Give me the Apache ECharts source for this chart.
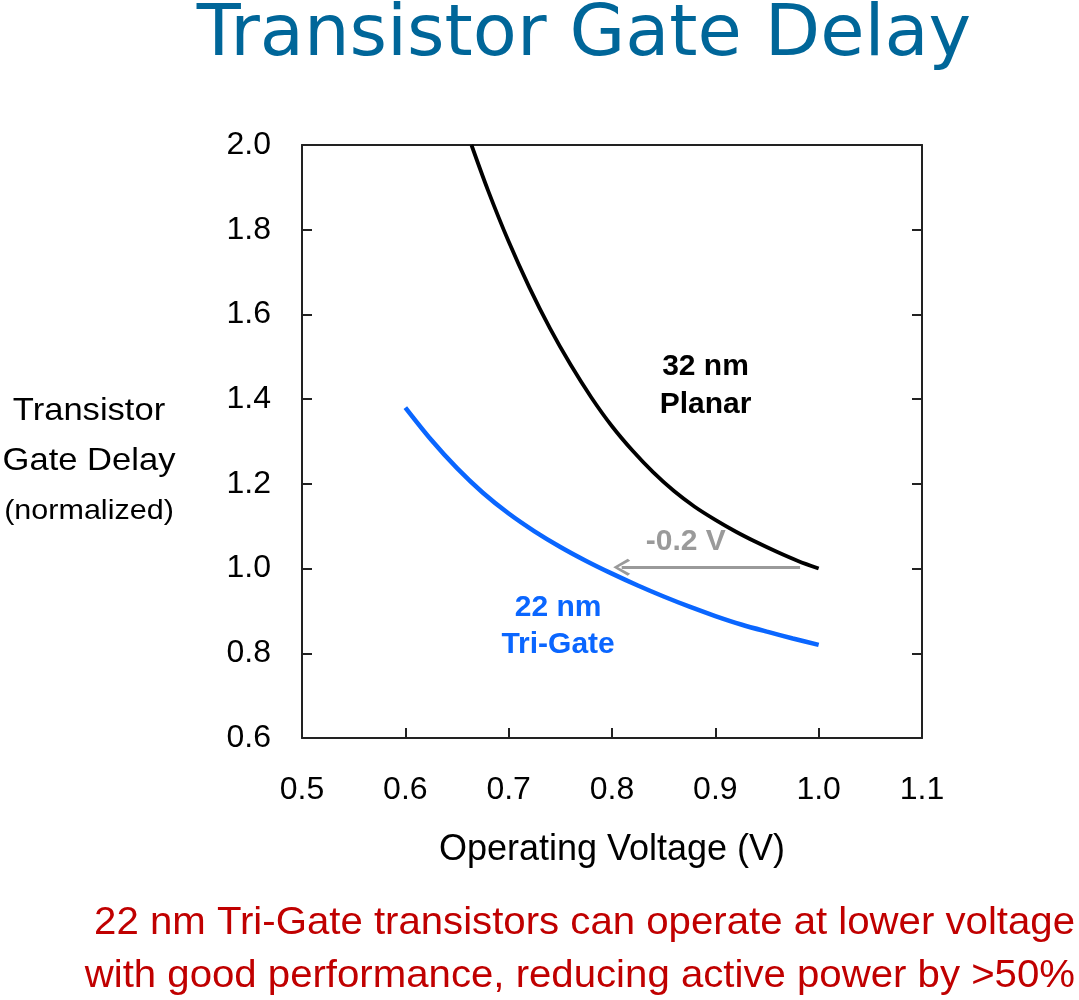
<!DOCTYPE html>
<html>
<head>
<meta charset="utf-8">
<script src="https://cdn.jsdelivr.net/npm/echarts@6/dist/echarts.min.js"></script>
<style>
html,body{margin:0;padding:0;background:#fff;}
#chart{width:1079px;height:1000px;}
</style>
</head>
<body>
<div id="chart"></div>
<script>
// ---- data ----
const planar32 = [[0.664,2.0],[0.68,1.893],[0.70,1.772],[0.72,1.664],[0.74,1.567],[0.76,1.481],[0.78,1.404],[0.80,1.336],[0.82,1.278],[0.84,1.227],[0.86,1.183],[0.88,1.146],[0.90,1.115],[0.92,1.087],[0.94,1.062],[0.96,1.039],[0.98,1.018],[1.00,1.000]];
const triGate22 = [[0.6,1.38],[0.625,1.304],[0.65,1.237],[0.675,1.179],[0.7,1.130],[0.725,1.088],[0.75,1.051],[0.775,1.018],[0.8,0.988],[0.825,0.960],[0.85,0.934],[0.875,0.910],[0.9,0.888],[0.925,0.868],[0.95,0.851],[0.975,0.835],[1.0,0.82]];
const arrowFrom = [0.982, 1.003];
const arrowTo = [0.8094, 1.003];
const planarLabelPos = [0.8905, 1.4325];
const triGateLabelPos = [0.7478, 0.864];
const shiftLabelPos = [0.8714, 1.063];

const chart = echarts.init(document.getElementById('chart'), null, {renderer:'canvas'});
const FONT = 'Liberation Sans, Arial, sans-serif';
const frame = {show:true, lineStyle:{color:'#222', width:2}};
const tickStyle = {show:true, inside:true, length:10, lineStyle:{color:'#222', width:2}};

const option = {
  animation:false,
  backgroundColor:'#fff',
  graphic:[
    {type:'text', x:584, y:36, style:{text:'Transistor Gate Delay', fontFamily:'DejaVu Sans, Verdana, sans-serif', fontSize:72, fill:'#006699', align:'center', verticalAlign:'middle'}},
    {type:'text', x:89, y:411, scaleX:1.08, style:{text:'Transistor', fontFamily:FONT, fontSize:32, fill:'#000', align:'center', verticalAlign:'middle'}},
    {type:'text', x:89, y:461, scaleX:1.08, style:{text:'Gate Delay', fontFamily:FONT, fontSize:32, fill:'#000', align:'center', verticalAlign:'middle'}},
    {type:'text', x:89, y:511, scaleX:1.09, style:{text:'(normalized)', fontFamily:FONT, fontSize:28, fill:'#000', align:'center', verticalAlign:'middle'}},
    {type:'text', x:1075, y:923, scaleX:1.03, style:{text:'22 nm Tri-Gate transistors can operate at lower voltage', fontFamily:FONT, fontSize:39, fill:'#c00000', align:'right', verticalAlign:'middle'}},
    {type:'text', x:1075, y:976, scaleX:1.03, style:{text:'with good performance, reducing active power by >50%', fontFamily:FONT, fontSize:39, fill:'#c00000', align:'right', verticalAlign:'middle'}}
  ],
  grid:{left:302, right:157, top:145, bottom:262, containLabel:false},
  xAxis:[
    {type:'value', min:0.5, max:1.1, interval:0.1, position:'bottom',
     name:'Operating Voltage (V)', nameLocation:'middle', nameGap:94,
     nameTextStyle:{fontFamily:FONT, fontSize:36, color:'#000'},
     axisLine:frame, axisTick:tickStyle,
     axisLabel:{fontFamily:FONT, fontSize:32, color:'#000', margin:36, formatter:v=>v.toFixed(1)},
     splitLine:{show:false}},
    {type:'value', min:0.5, max:1.1, interval:0.1, position:'top',
     axisLine:frame, axisTick:{show:false}, axisLabel:{show:false}, splitLine:{show:false}}
  ],
  yAxis:[
    {type:'value', min:0.6, max:2.0, interval:0.2, position:'left',
     axisLine:frame, axisTick:tickStyle,
     axisLabel:{fontFamily:FONT, fontSize:32, color:'#000', margin:31, formatter:v=>v.toFixed(1)},
     splitLine:{show:false}},
    {type:'value', min:0.6, max:2.0, interval:0.2, position:'right',
     axisLine:frame, axisTick:tickStyle,
     axisLabel:{show:false}, splitLine:{show:false}}
  ],
  series:[
    {name:'32 nm Planar', type:'line', data:planar32, smooth:0.3, showSymbol:false, symbol:'none',
     lineStyle:{color:'#000', width:3.8}, z:3},
    {name:'22 nm Tri-Gate', type:'line', data:triGate22, smooth:0.3, showSymbol:false, symbol:'none',
     lineStyle:{color:'#0a66ff', width:4.5}, z:3},
    {name:'shift', type:'line', data:[],
     markLine:{silent:true, animation:false,
       symbol:['none','path://M8.5,0 L17,14.5 L15,17 L8.5,5 L2,17 L0,14.5 Z'],
       symbolSize:[17,17],
       lineStyle:{color:'#9a9a9a', width:3, type:'solid'},
       itemStyle:{color:'#9a9a9a'},
       label:{show:false},
       data:[[{coord:arrowFrom},{coord:arrowTo}]]}},
    {name:'labels', type:'scatter', symbolSize:0, z:5, itemStyle:{opacity:1},
     data:[
       {value:planarLabelPos, label:{show:true, formatter:'32 nm\nPlanar', color:'#000'}},
       {value:triGateLabelPos, label:{show:true, formatter:'22 nm\nTri-Gate', color:'#0a66ff', lineHeight:37}},
       {value:shiftLabelPos, label:{show:true, formatter:'-0.2 V', color:'#9a9a9a'}}
     ],
     label:{position:'inside', fontFamily:FONT, fontSize:30, fontWeight:'bold', lineHeight:38, align:'center', verticalAlign:'middle', opacity:1}}
  ]
};
chart.setOption(option);
</script>
</body>
</html>
